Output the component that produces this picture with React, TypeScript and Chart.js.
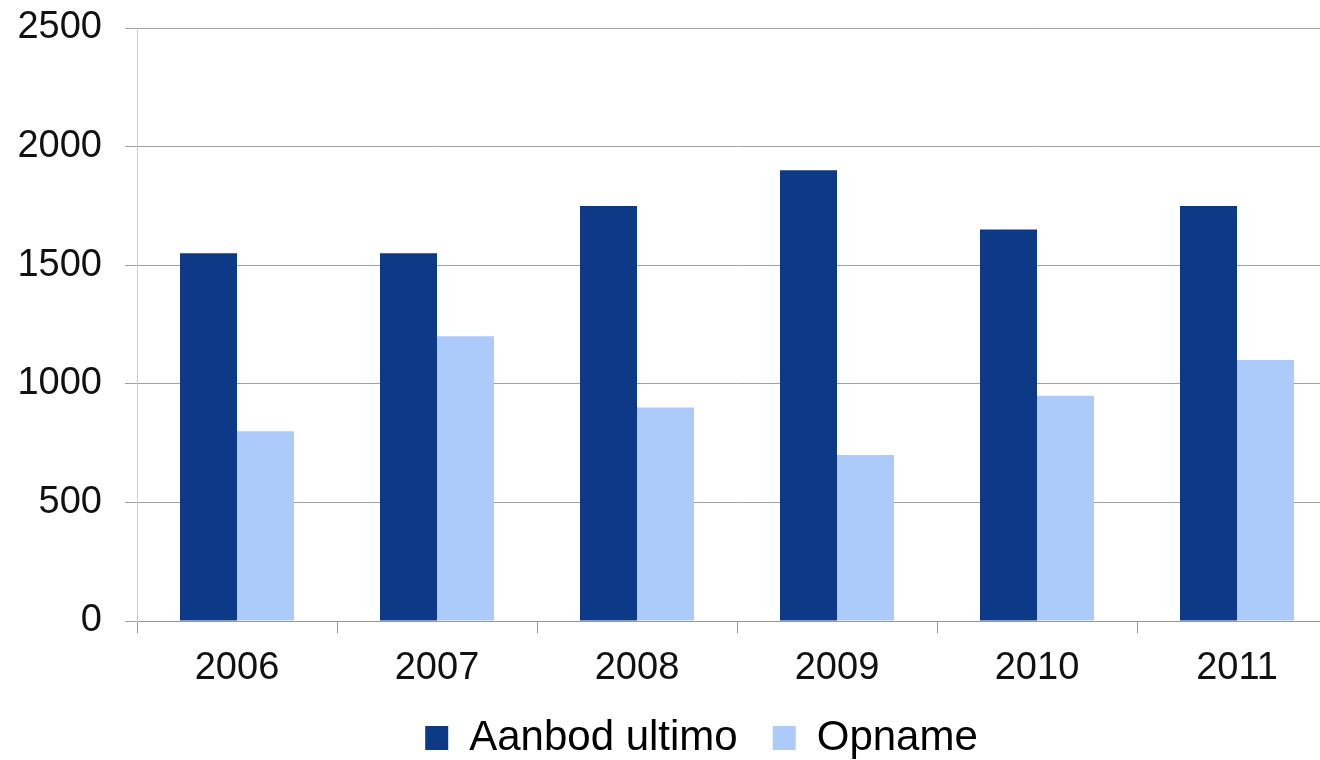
import React, { useEffect, useRef } from "react";
import { Chart, registerables } from "chart.js";

Chart.register(...registerables);

const years = ["2006", "2007", "2008", "2009", "2010", "2011"];
const aanbodUltimo = [1550, 1550, 1750, 1900, 1650, 1750];
const opname = [800, 1200, 900, 700, 950, 1100];
const yTicks = [0, 500, 1000, 1500, 2000, 2500];

const FONT = "'Liberation Sans', Arial, sans-serif";
const W = 1403;
const H = 760;

export default function App() {
  const ref = useRef<HTMLCanvasElement | null>(null);
  useEffect(() => {
    if (!ref.current) return;
    const chart = new Chart(ref.current, {
      type: "bar",
      data: {
        labels: years,
        datasets: [
          { label: "Aanbod ultimo", data: aanbodUltimo, backgroundColor: "#0C3A87", borderWidth: 0 },
          { label: "Opname", data: opname, backgroundColor: "#ADCBFA", borderWidth: 0 },
        ],
      },
      options: {
        animation: false,
        responsive: false,
        maintainAspectRatio: false,
        layout: { padding: { left: 0, right: 0, top: 0, bottom: -9 } },
        datasets: { bar: { categoryPercentage: 0.57, barPercentage: 1 } },
        plugins: {
          tooltip: { enabled: false },
          legend: {
            position: "bottom",
            labels: {
              font: { family: FONT, size: 42 },
              color: "#000",
              boxWidth: 23,
              boxHeight: 24,
              padding: 35,
            },
          },
        },
        scales: {
          x: {
            afterFit: (s: any) => {
              s.height = 61;
            },
            grid: {
              drawOnChartArea: false,
              drawTicks: true,
              tickLength: 12,
              color: "#999",
              offset: true,
            },
            border: { color: "#999" },
            ticks: { font: { family: FONT, size: 38 }, color: "#111", padding: 13 },
          },
          y: {
            min: 0,
            max: 2500,
            afterBuildTicks: (s: any) => {
              s.ticks = yTicks.map((v) => ({ value: v }));
            },
            afterFit: (s: any) => {
              s.width = 137;
              s.paddingTop = 28;
              s.paddingBottom = 0;
            },
            grid: { color: "#a0a0a0", tickLength: 12, drawTicks: true },
            border: { color: "#cccccc" },
            ticks: {
              font: { family: FONT, size: 38 },
              color: "#111",
              padding: 23,
              callback: (v: any) => String(v),
            },
          },
          yRight: {
            type: "linear",
            position: "right",
            display: true,
            afterFit: (s: any) => {
              s.width = W - 1337;
              s.paddingTop = 0;
              s.paddingBottom = 0;
            },
            grid: { display: false, drawTicks: false },
            border: { display: false },
            ticks: { display: false },
          },
        },
      },
    });
    return () => chart.destroy();
  }, []);
  return (
    <div style={{ position: "fixed", left: 0, top: 0, width: W, height: H, background: "#fff" }}>
      <canvas ref={ref} width={W} height={H} style={{ display: "block" }} />
    </div>
  );
}
